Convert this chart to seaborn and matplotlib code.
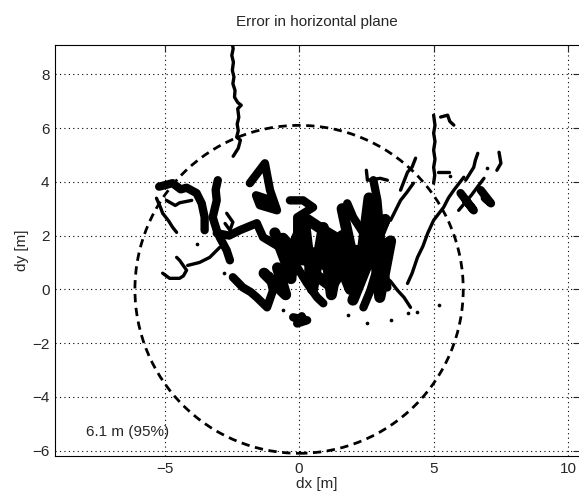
import numpy as np
import pandas as pd
import matplotlib
matplotlib.use("Agg")
import matplotlib.pyplot as plt
from matplotlib.patches import Circle
import seaborn as sns

# error traces, (dx, dy) in metres
north_trail = [(-2.50, 9.27), (-2.45, 8.95), (-2.50, 8.70), (-2.44, 8.45), (-2.48, 8.15),
               (-2.42, 7.90), (-2.46, 7.65), (-2.38, 7.40), (-2.40, 7.15), (-2.28, 6.95),
               (-2.15, 6.85), (-2.28, 6.72), (-2.24, 6.40), (-2.30, 6.15), (-2.26, 5.90),
               (-2.32, 5.66), (-2.18, 5.55), (-2.26, 5.25), (-2.45, 4.95)]
west_upper = [(-5.20, 3.82), (-4.70, 3.95), (-4.40, 3.72), (-4.18, 3.78), (-3.81, 3.58),
              (-3.62, 3.20), (-3.51, 2.68), (-3.51, 2.20)]
west_middle = [(-4.93, 3.31), (-4.60, 3.12), (-4.44, 3.22), (-3.99, 3.31)]
west_diag = [(-5.30, 3.39), (-5.15, 3.05), (-5.07, 2.83), (-4.85, 2.55), (-4.70, 2.31),
             (-4.55, 2.12)]
west_column = [(-3.02, 4.06), (-3.10, 3.70), (-3.06, 3.31), (-3.21, 2.68), (-3.06, 2.20),
               (-2.95, 1.94), (-2.69, 1.45), (-2.57, 1.08)]
west_loop = [(-2.69, 2.83), (-2.46, 2.50), (-2.57, 2.20), (-2.75, 2.45)]
west_lower = [(-4.55, 1.19), (-4.44, 1.08), (-4.18, 0.71), (-4.30, 0.50), (-4.44, 0.41),
              (-4.81, 0.41), (-5.07, 0.60)]
west_link = [(-4.14, 0.89), (-3.70, 1.00), (-3.32, 1.19), (-2.95, 1.56)]
main_band = [(-3.06, 2.09), (-2.60, 2.00), (-2.20, 2.20), (-1.57, 2.46), (-1.34, 1.94),
             (-0.71, 1.56), (0.15, 1.45), (1.16, 1.34), (2.10, 1.50), (3.02, 1.45)]
south_west = [(-2.46, 0.45), (-2.09, 0.07), (-1.80, -0.10), (-1.57, -0.30), (-1.19, -0.67),
              (-0.97, -0.04), (-1.10, 0.50)]
south_mass = [(-1.30, 0.60), (-0.90, 0.20), (-0.50, -0.20), (-0.80, 0.80), (-0.30, 0.40)]
north_blob = [(-1.83, 3.95), (-1.27, 4.69), (-1.08, 3.69), (-0.82, 2.94), (-1.46, 3.13),
              (-1.60, 3.50), (-1.00, 3.30)]
centre_column = [(-0.34, 3.31), (0.15, 3.31), (0.52, 3.05), (-0.07, 2.68), (-0.07, 2.09),
                 (-0.34, 1.45), (-0.07, 0.82), (0.30, 0.22), (0.67, -0.30), (0.90, -0.52)]
centre_mass = [(-0.90, 2.10), (-0.30, 0.50), (0.20, 2.50), (0.50, 0.00), (0.90, 2.30),
               (1.20, -0.20), (1.60, 2.00), (1.90, 0.00), (1.50, 1.00), (0.10, 1.10),
               (-0.60, 1.90)]
centre_fill = [(0.30, 2.60), (0.90, 2.20), (1.40, 1.90), (0.80, 1.00), (1.50, 0.60),
               (1.90, 1.20), (1.20, 0.10), (0.40, 0.70), (1.00, 1.60)]
east_column = [(1.79, 3.20), (2.01, 2.68), (2.39, 2.09), (2.65, 1.45), (2.91, 0.82),
               (2.65, -0.04), (2.39, -0.67)]
east_mass = [(1.60, 3.00), (2.20, 0.20), (2.60, 3.40), (3.00, -0.30), (3.40, 1.80),
             (2.30, 1.00), (3.20, 2.60), (2.00, -0.40)]
south_blob = [(-0.22, -1.04), (0.30, -1.15), (-0.07, -1.27), (0.10, -1.00)]
east_l = [(2.50, 4.43), (2.54, 4.06), (3.02, 4.13), (3.28, 4.06)]
east_band = [(2.76, 4.06), (2.91, 3.31), (3.02, 2.09), (3.13, 0.82), (3.28, 0.07)]
east_tail = [(3.02, 0.60), (3.40, 0.30), (3.66, -0.04), (3.90, -0.30), (4.14, -0.67)]
east_branch = [(3.77, 3.69), (4.03, 4.36), (4.20, 4.55), (4.33, 4.88)]
east_diag = [(3.40, 2.57), (3.77, 3.31), (4.00, 3.60), (4.25, 3.95)]
long_diag = [(4.03, 0.22), (4.20, 0.60), (4.40, 1.19), (4.60, 1.60), (4.78, 2.09),
             (5.00, 2.57), (5.37, 3.05), (5.55, 3.40), (5.75, 3.69), (6.12, 4.17)]
grid_trail = [(5.00, 6.48), (5.05, 6.10), (5.00, 5.81), (5.05, 5.50), (5.00, 5.18),
              (5.05, 4.84), (5.00, 4.54), (5.04, 4.25), (5.00, 3.95)]
grid_hook = [(5.26, 6.41), (5.52, 6.48), (5.60, 6.25), (5.75, 6.11)]
grid_spur = [(5.15, 4.36), (5.56, 4.36)]
far_diag = [(6.64, 5.06), (6.55, 4.80), (6.49, 4.54), (6.19, 4.06)]
far_diag2 = [(6.87, 4.13), (6.40, 3.50), (5.93, 2.94)]
far_blob = [(6.00, 3.58), (6.49, 2.94), (6.20, 3.30)]
far_blob2 = [(6.75, 3.69), (7.13, 3.20), (6.90, 3.40)]
far_stub = [(7.43, 5.10), (7.50, 4.69), (7.35, 4.43)]
stray_x = [2.54, 3.40, 4.03, 4.40, 5.20, -0.60, 1.80, -2.80, -3.80, 5.60, 7.00]
stray_y = [-1.27, -1.15, -0.89, -0.86, -0.60, -0.75, -0.95, 0.60, 1.70, 4.20, 4.50]

radius_95 = 6.1
circle_label = "6.1 m (95%)"

thin = {"north_trail": north_trail, "west_middle": west_middle, "west_diag": west_diag,
        "west_lower": west_lower, "west_link": west_link, "west_loop": west_loop,
        "east_l": east_l, "east_tail": east_tail, "east_branch": east_branch,
        "east_diag": east_diag, "long_diag": long_diag, "grid_trail": grid_trail,
        "grid_hook": grid_hook, "grid_spur": grid_spur, "far_diag": far_diag,
        "far_diag2": far_diag2, "far_stub": far_stub}
thick = {"west_upper": west_upper, "west_column": west_column, "main_band": main_band,
         "south_west": south_west, "north_blob": north_blob,
         "centre_column": centre_column, "east_column": east_column,
         "south_blob": south_blob, "east_band": east_band, "far_blob": far_blob,
         "far_blob2": far_blob2}
heavy = {"centre_mass": centre_mass, "centre_fill": centre_fill,
         "east_mass": east_mass, "south_mass": south_mass}


def to_frame(traces):
    rows = []
    for name, pts in traces.items():
        for i, (x, y) in enumerate(pts):
            rows.append({"trace": name, "order": i, "dx": x, "dy": y})
    return pd.DataFrame(rows)


sns.set_style("white")
plt.rcParams["font.family"] = ["Liberation Sans", "DejaVu Sans"]
plt.rcParams["font.size"] = 11

fig = plt.figure(figsize=(5.79, 4.99), dpi=100)
ax = fig.add_axes([55 / 579, 43 / 499, 524.5 / 579, 411 / 499])

for traces, lw in [(thin, 2.4), (thick, 6.0), (heavy, 8.0)]:
    sns.lineplot(data=to_frame(traces), x="dx", y="dy", units="trace", estimator=None,
                 sort=False, color="black", linewidth=lw, ax=ax, legend=False,
                 solid_capstyle="round", solid_joinstyle="round")
sns.scatterplot(x=stray_x, y=stray_y, color="black", s=7, linewidth=0, ax=ax)

ax.add_patch(Circle((0, 0), radius_95, fill=False, edgecolor="black", linewidth=2,
                    linestyle=(0, (3, 2))))
ax.text(-7.9, -5.3, circle_label, fontsize=11, va="center", ha="left")

ax.set_xlim(-9.07, 10.42)
ax.set_ylim(-6.2, 9.09)
ax.set_xticks([-5, 0, 5, 10])
ax.set_yticks([-6, -4, -2, 0, 2, 4, 6, 8])
ax.set_xticklabels(["\u22125", "0", "5", "10"])
ax.set_yticklabels(["\u22126", "\u22124", "\u22122", "0", "2", "4", "6", "8"])
ax.grid(True, linestyle=(0, (1, 3)), color="black", linewidth=0.8)
ax.tick_params(direction="in", length=5, top=True, right=True, labelsize=11, pad=4)
for sp in ax.spines.values():
    sp.set_color("black")
    sp.set_linewidth(0.8)
ax.set_xlabel("dx [m]", fontsize=11, labelpad=1)
ax.set_ylabel("dy [m]", fontsize=11, labelpad=2)
ax.set_title("Error in horizontal plane", fontsize=11, pad=14)

fig.savefig("out.png", dpi=100)
